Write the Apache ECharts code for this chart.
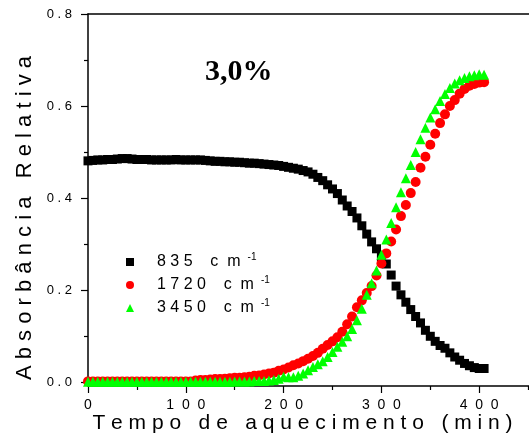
<!DOCTYPE html>
<html>
<head>
<meta charset="utf-8">
<script src="https://cdn.jsdelivr.net/npm/echarts@6/dist/echarts.min.js"></script>
<style>html,body{margin:0;padding:0;background:#fff;}#c{width:529px;height:438px;}</style>
</head>
<body>
<div id="c"></div>
<script>
// ---- data ----
const times = [0,5,10,15,20,25,30,35,40,45,50,55,60,65,70,75,80,85,90,95,100,105,110,115,120,125,130,135,140,145,150,155,160,165,170,175,180,185,190,195,200,205,210,215,220,225,230,235,240,245,250,255,260,265,270,275,280,285,290,295,300,305,310,315,320,325,330,335,340,345,350,355,360,365,370,375,380,385,390,395,400,405];
const band835 = [0.481,0.482,0.483,0.483,0.484,0.484,0.485,0.486,0.486,0.485,
  0.484,0.484,0.484,0.483,0.483,0.483,0.483,0.483,0.484,0.483,
  0.483,0.483,0.483,0.483,0.482,0.481,0.480,0.480,0.479,0.479,
  0.478,0.478,0.477,0.476,0.476,0.475,0.474,0.473,0.472,0.471,
  0.469,0.467,0.465,0.463,0.460,0.457,0.452,0.445,0.438,0.429,
  0.420,0.410,0.396,0.383,0.371,0.357,0.340,0.322,0.305,0.290,
  0.273,0.257,0.233,0.209,0.190,0.174,0.158,0.143,0.129,0.113,
  0.100,0.089,0.080,0.074,0.064,0.055,0.048,0.041,0.036,0.032,
  0.030,0.030];
const band1720 = [0.002,0.002,0.002,0.002,0.002,0.002,0.002,0.002,0.002,0.002,
  0.002,0.002,0.002,0.002,0.002,0.002,0.002,0.002,0.002,0.002,
  0.002,0.002,0.004,0.005,0.005,0.006,0.007,0.007,0.008,0.009,
  0.010,0.010,0.011,0.012,0.014,0.015,0.017,0.019,0.021,0.025,
  0.028,0.032,0.037,0.041,0.046,0.051,0.057,0.064,0.073,0.081,
  0.089,0.098,0.110,0.126,0.143,0.163,0.178,0.194,0.209,0.232,
  0.258,0.280,0.306,0.332,0.361,0.385,0.411,0.435,0.466,0.490,
  0.516,0.540,0.563,0.582,0.600,0.613,0.627,0.637,0.644,0.648,
  0.651,0.652];
const band3450 = [0.001,0.001,0.001,0.001,0.001,0.001,0.001,0.001,0.001,0.001,
  0.001,0.001,0.001,0.001,0.001,0.001,0.001,0.001,0.001,0.001,
  0.001,0.001,0.001,0.001,0.001,0.001,0.001,0.001,0.001,0.001,
  0.002,0.002,0.002,0.002,0.003,0.003,0.003,0.004,0.005,0.008,
  0.012,0.011,0.011,0.014,0.019,0.026,0.033,0.039,0.046,0.055,
  0.066,0.077,0.088,0.100,0.116,0.135,0.160,0.190,0.215,0.243,
  0.277,0.310,0.346,0.380,0.413,0.443,0.472,0.500,0.528,0.553,
  0.575,0.593,0.611,0.626,0.639,0.649,0.656,0.661,0.665,0.667,
  0.669,0.668];
const seriesNames = ['835', '1720', '3450'];
const yLabelValues = [0, 0.2, 0.4, 0.6, 0.8];
const yMinorValues = [0.1, 0.3, 0.5, 0.7];
const panelLabel = '3,0%';
const xTitle = 'Tempo de aquecimento (min)';
const yTitle = 'Absorbância Relativa';

// ---- chart ----
const spaced = (s, sep) => String(s).split('').join(sep);
const pairs = vals => times.map((t, i) => [t, vals[i]]);
const FONT = '"Liberation Sans", Arial, sans-serif';

const chart = echarts.init(document.getElementById('c'), null, {renderer: 'canvas'});
chart.setOption({
  animation: false,
  backgroundColor: '#ffffff',
  title: {
    text: panelLabel, left: 205, top: 57, padding: 0,
    textStyle: {fontFamily: '"Liberation Serif", "Times New Roman", serif', fontWeight: 'bold', fontSize: 30, color: '#000'}
  },
  legend: {
    orient: 'vertical', left: 126, top: 252, itemWidth: 8, itemHeight: 8, itemGap: 5,
    selectedMode: false, padding: 0,
    data: [
      {name: seriesNames[0], icon: 'rect'},
      {name: seriesNames[1], icon: 'circle'},
      {name: seriesNames[2], icon: 'triangle'}
    ],
    formatter: name => '{a|' + spaced(name, ' ') + '    c  m}{s|-1}',
    textStyle: {
      color: '#000', fontFamily: FONT,
      rich: {
        a: {fontSize: 16, lineHeight: 20, padding: [0, 0, 0, 18], fontFamily: FONT, color: '#000'},
        s: {fontSize: 10, lineHeight: 10, verticalAlign: 'top', padding: [0, 0, 0, 7], fontFamily: FONT, color: '#000'}
      }
    }
  },
  grid: {left: 88, top: 14, right: -48, bottom: 52, containLabel: false, outerBoundsMode: 'none'},
  xAxis: [{
    type: 'value', min: 0, max: 500, interval: 100,
    position: 'bottom',
    axisLine: {show: true, onZero: false, lineStyle: {color: '#000', width: 1.5}},
    axisTick: {show: true, inside: false, length: 7, lineStyle: {color: '#000', width: 1.2}},
    minorTick: {show: true, splitNumber: 2, length: 4, lineStyle: {color: '#000', width: 1.2}},
    splitLine: {show: false}, minorSplitLine: {show: false},
    axisLabel: {margin: 12, color: '#000', fontFamily: FONT, fontSize: 14, formatter: v => spaced(v, '  ')},
    name: spaced(xTitle, ' '), nameLocation: 'middle', nameGap: 27, nameMoveOverlap: false,
    nameTextStyle: {color: '#000', fontFamily: FONT, fontSize: 21, padding: [0, 60, 0, 0]}
  }, {
    type: 'value', min: 0, max: 500, position: 'top',
    axisLine: {show: true, onZero: false, lineStyle: {color: '#000', width: 1.5}},
    axisTick: {show: false}, axisLabel: {show: false}, splitLine: {show: false}
  }],
  yAxis: [{
    type: 'value', min: -0.008, max: 0.8, position: 'left',
    axisLine: {show: true, onZero: false, lineStyle: {color: '#000', width: 1.5}},
    axisTick: {show: true, inside: false, length: 7, customValues: yLabelValues, lineStyle: {color: '#000', width: 1.2}},
    splitLine: {show: false},
    axisLabel: {margin: 16, color: '#000', fontFamily: FONT, fontSize: 13, customValues: yLabelValues, formatter: v => spaced(v.toFixed(1), ' ')},
    name: spaced(yTitle, ' '), nameLocation: 'middle', nameGap: 52, nameRotate: 90, nameMoveOverlap: false,
    nameTextStyle: {color: '#000', fontFamily: FONT, fontSize: 22, padding: [0, 36, 0, 0]}
  }, {
    type: 'value', min: -0.008, max: 0.8, position: 'left',
    axisLine: {show: false},
    axisTick: {show: true, inside: false, length: 4, customValues: yMinorValues, lineStyle: {color: '#000', width: 1.2}},
    axisLabel: {show: false}, splitLine: {show: false}
  }],
  series: [
    {name: seriesNames[0], type: 'scatter', symbol: 'rect', symbolSize: 9, itemStyle: {color: '#000000', opacity: 1}, data: pairs(band835)},
    {name: seriesNames[1], type: 'scatter', symbol: 'circle', symbolSize: 10, itemStyle: {color: '#ff0000', opacity: 1}, data: pairs(band1720)},
    {name: seriesNames[2], type: 'scatter', symbol: 'triangle', symbolSize: 10, itemStyle: {color: '#00ff00', opacity: 1}, data: pairs(band3450)}
  ]
});
</script>
</body>
</html>
